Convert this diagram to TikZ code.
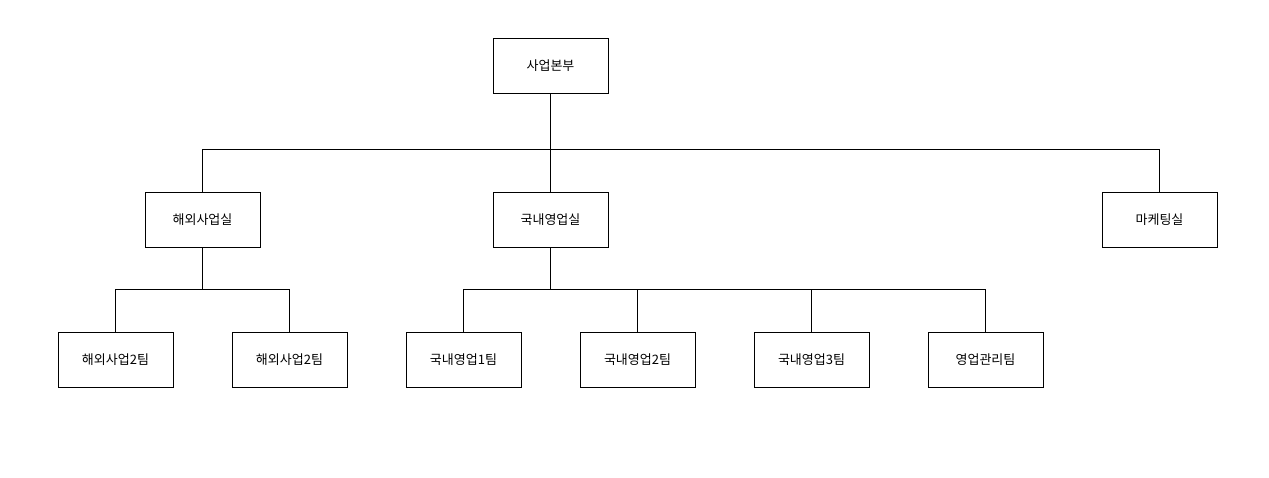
\documentclass[tikz,border=0pt]{standalone}
\usepackage{fontspec}
\setmainfont{Noto Sans CJK KR}
\begin{document}
\begin{tikzpicture}[x=1pt,y=-1pt,
  box/.style={draw,line width=0.8pt,minimum width=115pt,minimum height=55pt,inner sep=0pt,font=\fontsize{13}{15}\selectfont},
  conn/.style={line width=0.8pt}]
\useasboundingbox[fill=white] (0,0) rectangle (1269,478);
\node[box] (top) at (550.5,65.5) {사업본부};
\node[box] (h) at (202.5,219.5) {해외사업실};
\node[box] (k) at (550.5,219.5) {국내영업실};
\node[box] (m) at (1159.5,219.5) {마케팅실};
\node[box] (h1) at (115.5,359.5) {해외사업2팀};
\node[box] (h2) at (289.5,359.5) {해외사업2팀};
\node[box] (k1) at (463.5,359.5) {국내영업1팀};
\node[box] (k2) at (637.5,359.5) {국내영업2팀};
\node[box] (k3) at (811.5,359.5) {국내영업3팀};
\node[box] (k4) at (985.5,359.5) {영업관리팀};
\coordinate (b1) at (550.5,149);
\coordinate (b2) at (202.5,289);
\coordinate (b3) at (550.5,289);
\draw[conn] (top) -- (b1);
\foreach \n in {h,k,m} \draw[conn] (b1) -| (\n);
\foreach \n in {h1,h2} \draw[conn] (h) -- (b2) -| (\n);
\foreach \n in {k1,k2,k3,k4} \draw[conn] (k) -- (b3) -| (\n);
\end{tikzpicture}
\end{document}
